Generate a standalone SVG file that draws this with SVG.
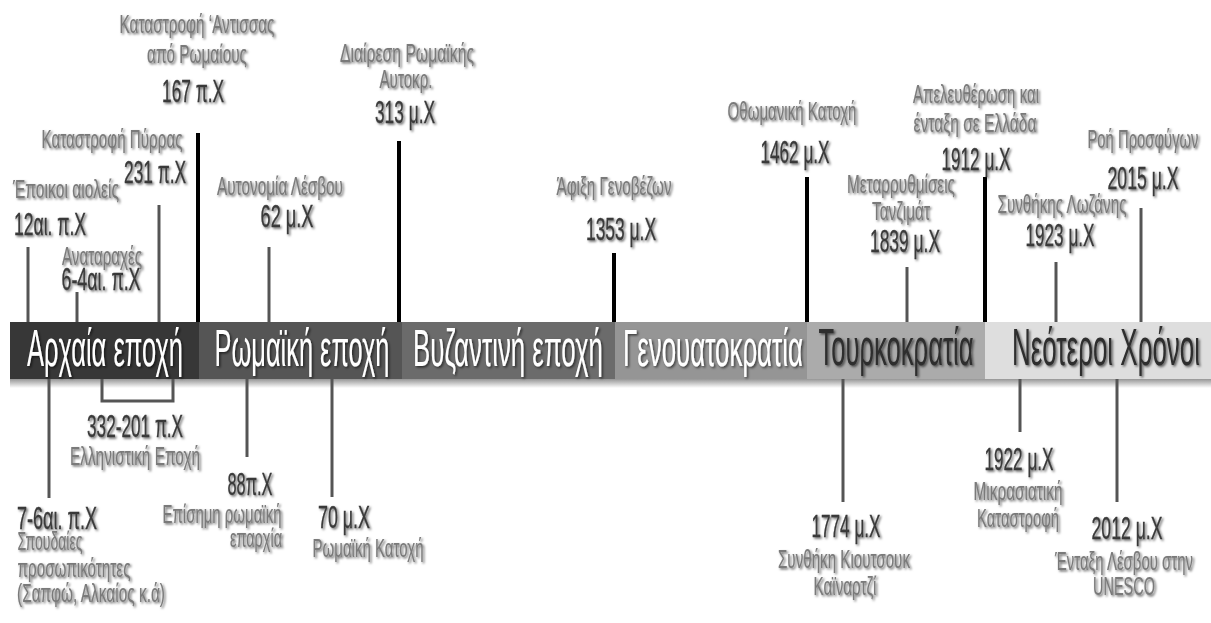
<svg xmlns="http://www.w3.org/2000/svg" width="1211" height="623" viewBox="0 0 1211 623">
<defs>
<filter id="sh" x="-10%" y="-30%" width="120%" height="170%">
<feDropShadow dx="1.5" dy="1.5" stdDeviation="1.1" flood-color="#000" flood-opacity="0.6"/>
</filter>
<linearGradient id="bshadow" x1="0" y1="0" x2="0" y2="1">
<stop offset="0" stop-color="#8a8a8a"/>
<stop offset="1" stop-color="#ffffff"/>
</linearGradient>
</defs>
<style>
text { font-family: "Liberation Sans", Arial, sans-serif; text-anchor: middle; }
.yr { font-size: 32px; fill: #3a3a3a; stroke: #3a3a3a; stroke-width: 0.35; filter: url(#sh); }
.ev { font-size: 25px; fill: #7a7a7a; stroke: #7a7a7a; stroke-width: 0.2; filter: url(#sh); }
.band { font-size: 52px; fill: #ffffff; filter: url(#sh); }
.bandd { font-size: 52px; fill: #2e2e2e; filter: url(#sh); }
.lb { stroke: #000; stroke-width: 4; fill: none; }
.lg { stroke: #555; stroke-width: 3; fill: none; }
</style>
<rect width="1211" height="623" fill="#ffffff"/>

<g id="band">
<rect x="10" y="378" width="1201" height="10" fill="url(#bshadow)"/>
<rect x="10" y="322" width="189" height="57" fill="#373737"/>
<rect x="199" y="322" width="203" height="57" fill="#555555"/>
<rect x="402" y="322" width="213" height="57" fill="#6b6b6b"/>
<rect x="615" y="322" width="192" height="57" fill="#959595"/>
<rect x="807" y="322" width="178" height="57" fill="#ababab"/>
<rect x="985" y="322" width="226" height="57" fill="#dedede"/>
</g>
<g id="era-archaia"><text class="band" x="105" y="366" textLength="156" lengthAdjust="spacingAndGlyphs">Αρχαία εποχή</text></g>
<g id="era-romaiki"><text class="band" x="302" y="366" textLength="175" lengthAdjust="spacingAndGlyphs">Ρωμαϊκή εποχή</text></g>
<g id="era-byzantini"><text class="band" x="508" y="366" textLength="190" lengthAdjust="spacingAndGlyphs">Βυζαντινή εποχή</text></g>
<g id="era-genouates"><text class="band" x="713" y="366" textLength="180" lengthAdjust="spacingAndGlyphs">Γενουατοκρατία</text></g>
<g id="era-tourkokratia"><text class="bandd" x="896" y="365" textLength="155" lengthAdjust="spacingAndGlyphs">Τουρκοκρατία</text></g>
<g id="era-neoteroi"><text class="bandd" x="1106" y="365" textLength="188" lengthAdjust="spacingAndGlyphs">Νεότεροι Χρόνοι</text></g>

<g id="connectors">
<line class="lg" x1="28" y1="247" x2="28" y2="322"/>
<line class="lg" x1="77" y1="292" x2="77" y2="322"/>
<line class="lg" x1="159" y1="205" x2="159" y2="322"/>
<line class="lb" x1="198" y1="133" x2="198" y2="322"/>
<line class="lg" x1="269" y1="247" x2="269" y2="322"/>
<line class="lb" x1="399" y1="141" x2="399" y2="322"/>
<line class="lb" x1="614" y1="253" x2="614" y2="322"/>
<line class="lb" x1="807" y1="177" x2="807" y2="322"/>
<line class="lg" x1="907" y1="267" x2="907" y2="322"/>
<line class="lb" x1="985" y1="177" x2="985" y2="322"/>
<line class="lg" x1="1056" y1="262" x2="1056" y2="322"/>
<line class="lg" x1="1141" y1="208" x2="1141" y2="322"/>
<line class="lg" x1="49" y1="379" x2="49" y2="498"/>
<polyline class="lg" points="102,379 102,401 173,401 173,379"/>
<line class="lg" x1="247" y1="379" x2="247" y2="457"/>
<line class="lg" x1="332" y1="379" x2="332" y2="497"/>
<line class="lg" x1="843" y1="379" x2="843" y2="502"/>
<line class="lg" x1="1020" y1="379" x2="1020" y2="432"/>
<line class="lg" x1="1117" y1="379" x2="1117" y2="502"/>
</g>

<g id="ev-12ai">
<text class="ev" x="66" y="198" textLength="106" lengthAdjust="spacingAndGlyphs">Έποικοι αιολείς</text>
<text class="yr" x="50" y="235" textLength="72" lengthAdjust="spacingAndGlyphs">12αι. π.Χ</text>
</g>
<g id="ev-6-4ai">
<text class="ev" x="102" y="265" textLength="80" lengthAdjust="spacingAndGlyphs">Αναταραχές</text>
<text class="yr" x="101" y="290" textLength="79" lengthAdjust="spacingAndGlyphs">6-4αι. π.Χ</text>
</g>
<g id="ev-231">
<text class="ev" x="112" y="148" textLength="141" lengthAdjust="spacingAndGlyphs">Καταστροφή Πύρρας</text>
<text class="yr" x="155" y="183" textLength="62" lengthAdjust="spacingAndGlyphs">231 π.Χ</text>
</g>
<g id="ev-167">
<text class="ev" x="197" y="33" textLength="155" lengthAdjust="spacingAndGlyphs">Καταστροφή ‘Αντισσας</text>
<text class="ev" x="197" y="63" textLength="100" lengthAdjust="spacingAndGlyphs">από Ρωμαίους</text>
<text class="yr" x="193" y="102" textLength="62" lengthAdjust="spacingAndGlyphs">167 π.Χ</text>
</g>
<g id="ev-62">
<text class="ev" x="280" y="195" textLength="126" lengthAdjust="spacingAndGlyphs">Αυτονομία Λέσβου</text>
<text class="yr" x="287" y="227" textLength="53" lengthAdjust="spacingAndGlyphs">62 μ.Χ</text>
</g>
<g id="ev-313">
<text class="ev" x="407" y="62" textLength="134" lengthAdjust="spacingAndGlyphs">Διαίρεση Ρωμαϊκής</text>
<text class="ev" x="406" y="88" textLength="53" lengthAdjust="spacingAndGlyphs">Αυτοκρ.</text>
<text class="yr" x="405" y="123" textLength="60" lengthAdjust="spacingAndGlyphs">313 μ.Χ</text>
</g>
<g id="ev-1353">
<text class="ev" x="614" y="195" textLength="115" lengthAdjust="spacingAndGlyphs">Άφιξη Γενοβέζων</text>
<text class="yr" x="621" y="240" textLength="70" lengthAdjust="spacingAndGlyphs">1353 μ.Χ</text>
</g>
<g id="ev-1462">
<text class="ev" x="792" y="120" textLength="129" lengthAdjust="spacingAndGlyphs">Οθωμανική Κατοχή</text>
<text class="yr" x="795" y="163" textLength="69" lengthAdjust="spacingAndGlyphs">1462 μ.Χ</text>
</g>
<g id="ev-1839">
<text class="ev" x="901" y="193" textLength="108" lengthAdjust="spacingAndGlyphs">Μεταρρυθμίσεις</text>
<text class="ev" x="901" y="220" textLength="58" lengthAdjust="spacingAndGlyphs">Τανζιμάτ</text>
<text class="yr" x="905" y="252" textLength="70" lengthAdjust="spacingAndGlyphs">1839 μ.Χ</text>
</g>
<g id="ev-1912">
<text class="ev" x="976" y="103" textLength="126" lengthAdjust="spacingAndGlyphs">Απελευθέρωση και</text>
<text class="ev" x="975" y="132" textLength="123" lengthAdjust="spacingAndGlyphs">ένταξη σε Ελλάδα</text>
<text class="yr" x="976" y="170" textLength="69" lengthAdjust="spacingAndGlyphs">1912 μ.Χ</text>
</g>
<g id="ev-1923">
<text class="ev" x="1062" y="213" textLength="129" lengthAdjust="spacingAndGlyphs">Συνθήκης Λωζάνης</text>
<text class="yr" x="1060" y="246" textLength="69" lengthAdjust="spacingAndGlyphs">1923 μ.Χ</text>
</g>
<g id="ev-2015">
<text class="ev" x="1143" y="148" textLength="111" lengthAdjust="spacingAndGlyphs">Ροή Προσφύγων</text>
<text class="yr" x="1143" y="189" textLength="71" lengthAdjust="spacingAndGlyphs">2015 μ.Χ</text>
</g>

<g id="ev-7-6ai">
<text class="yr" x="57" y="529" textLength="80" lengthAdjust="spacingAndGlyphs">7-6αι. π.Χ</text>
<text class="ev" x="50" y="550" textLength="65" lengthAdjust="spacingAndGlyphs">Σπουδαίες</text>
<text class="ev" x="74" y="577" textLength="113" lengthAdjust="spacingAndGlyphs">προσωπικότητες</text>
<text class="ev" x="91" y="602" textLength="148" lengthAdjust="spacingAndGlyphs">(Σαπφώ, Αλκαίος κ.ά)</text>
</g>
<g id="ev-332-201">
<text class="yr" x="135" y="437" textLength="96" lengthAdjust="spacingAndGlyphs">332-201 π.Χ</text>
<text class="ev" x="135" y="465" textLength="130" lengthAdjust="spacingAndGlyphs">Ελληνιστική Εποχή</text>
</g>
<g id="ev-88">
<text class="yr" x="250" y="495" textLength="45" lengthAdjust="spacingAndGlyphs">88π.Χ</text>
<text class="ev" x="222" y="523" textLength="119" lengthAdjust="spacingAndGlyphs">Επίσημη ρωμαϊκή</text>
<text class="ev" x="256" y="547" textLength="52" lengthAdjust="spacingAndGlyphs">επαρχία</text>
</g>
<g id="ev-70">
<text class="yr" x="344" y="528" textLength="52" lengthAdjust="spacingAndGlyphs">70 μ.Χ</text>
<text class="ev" x="368" y="557" textLength="111" lengthAdjust="spacingAndGlyphs">Ρωμαϊκή Κατοχή</text>
</g>
<g id="ev-1774">
<text class="yr" x="846" y="537" textLength="69" lengthAdjust="spacingAndGlyphs">1774 μ.Χ</text>
<text class="ev" x="844" y="568" textLength="132" lengthAdjust="spacingAndGlyphs">Συνθήκη Κιουτσουκ</text>
<text class="ev" x="845" y="595" textLength="63" lengthAdjust="spacingAndGlyphs">Καϊναρτζί</text>
</g>
<g id="ev-1922">
<text class="yr" x="1019" y="470" textLength="69" lengthAdjust="spacingAndGlyphs">1922 μ.Χ</text>
<text class="ev" x="1018" y="500" textLength="89" lengthAdjust="spacingAndGlyphs">Μικρασιατική</text>
<text class="ev" x="1018" y="527" textLength="82" lengthAdjust="spacingAndGlyphs">Καταστροφή</text>
</g>
<g id="ev-2012">
<text class="yr" x="1127" y="539" textLength="71" lengthAdjust="spacingAndGlyphs">2012 μ.Χ</text>
<text class="ev" x="1124" y="570" textLength="138" lengthAdjust="spacingAndGlyphs">Ένταξη Λέσβου στην</text>
<text class="ev" x="1124" y="595" textLength="62" lengthAdjust="spacingAndGlyphs">UNESCO</text>
</g>
</svg>
